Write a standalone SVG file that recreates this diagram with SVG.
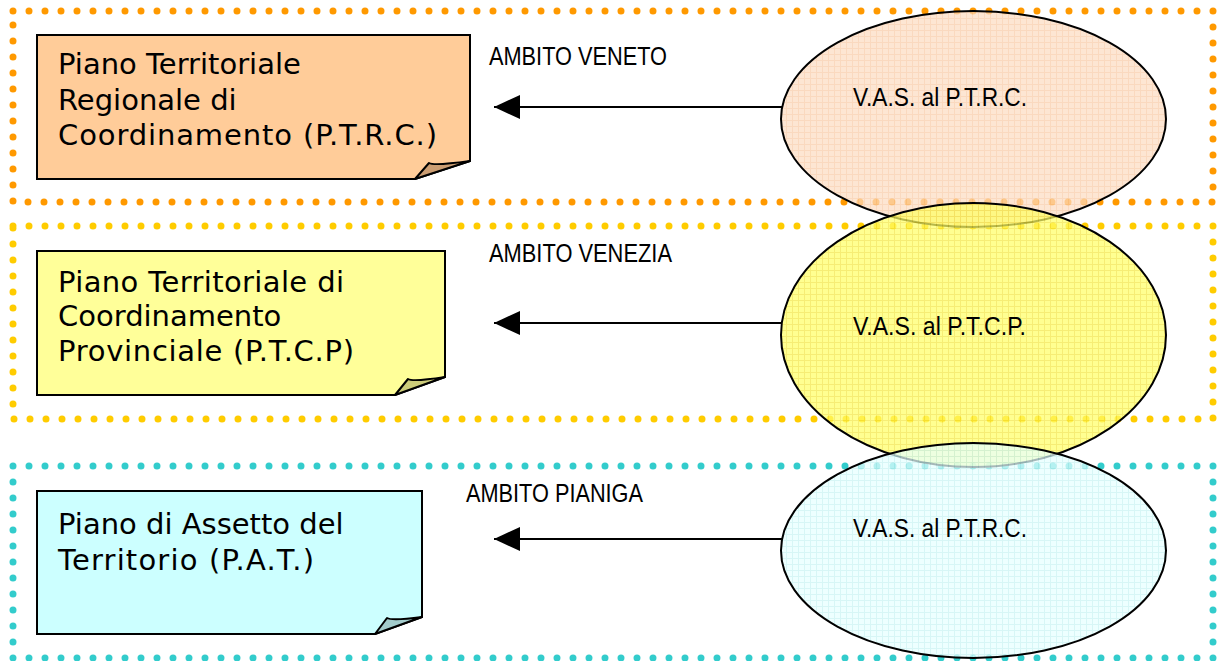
<svg xmlns="http://www.w3.org/2000/svg" width="1225" height="661" viewBox="0 0 1225 661">
<style>
.frame{fill:none;stroke-width:7;stroke-linecap:round;stroke-dasharray:0 16}
.box{stroke:#000;stroke-width:2;stroke-linejoin:miter}
.flap{stroke:#000;stroke-width:2;stroke-linejoin:round}
.btxt{font-family:"DejaVu Sans",Verdana,sans-serif;font-size:29px;fill:#000}
.lbl{font-family:"Liberation Sans",Arial,sans-serif;font-size:26px;fill:#000}
.ell{stroke:#000;stroke-width:2;fill-opacity:0.72}
.conn{stroke:#000;stroke-width:2;fill:none}
</style>
<defs>
<pattern id="pO" width="6" height="6" patternUnits="userSpaceOnUse"><rect width="6" height="6" fill="#fcdcc2"/><path d="M0,0.5H6M0.5,0V6" stroke="#f8cba6" stroke-width="1"/></pattern>
<pattern id="pY" width="6" height="6" patternUnits="userSpaceOnUse"><rect width="6" height="6" fill="#ffff66"/><path d="M0,0.5H6M0.5,0V6" stroke="#f2e640" stroke-width="1"/></pattern>
<pattern id="pC" width="6" height="6" patternUnits="userSpaceOnUse"><rect width="6" height="6" fill="#e6ffff"/><path d="M0,0.5H6M0.5,0V6" stroke="#c8f2f2" stroke-width="1"/></pattern>
<marker id="ah" markerUnits="userSpaceOnUse" markerWidth="26" markerHeight="24" viewBox="0 0 26 24" refX="26" refY="12" orient="auto"><path d="M0,0L26,12L0,24Z" fill="#000"/></marker>
</defs>
<rect width="1225" height="661" fill="#fff"/>
<g id="frames">
<rect class="frame" x="13" y="11" width="1200" height="191" stroke="#ff9900"/>
<rect class="frame" x="13" y="226" width="1200" height="193" stroke="#ffcc00"/>
<rect class="frame" x="13" y="466" width="1200" height="192" stroke="#33cccc"/>
</g>
<g id="node-ptrc">
<path class="box" d="M37,35H470V161L415,179H37Z" fill="#ffcc99"/>
<path class="flap" d="M415,179L429,163Q434,166 470,161Z" fill="#cc9e73"/>
<text class="btxt" x="58" y="74">Piano Territoriale</text>
<text class="btxt" x="58" y="110">Regionale di</text>
<text class="btxt" x="58" y="145" textLength="379" lengthAdjust="spacing">Coordinamento (P.T.R.C.)</text>
</g>
<g id="node-ptcp">
<path class="box" d="M37,251H445V377L395,395H37Z" fill="#ffff99"/>
<path class="flap" d="M395,395L408,379Q413,382 445,377Z" fill="#cccc7a"/>
<text class="btxt" x="58" y="292" textLength="286" lengthAdjust="spacing">Piano Territoriale di</text>
<text class="btxt" x="58" y="326">Coordinamento</text>
<text class="btxt" x="58" y="361" textLength="296" lengthAdjust="spacing">Provinciale (P.T.C.P)</text>
</g>
<g id="node-pat">
<path class="box" d="M37,491H422V617L375,634H37Z" fill="#ccffff"/>
<path class="flap" d="M375,634L387,618Q392,621 422,617Z" fill="#a3cccc"/>
<text class="btxt" x="58" y="534">Piano di Assetto del</text>
<text class="btxt" x="58" y="570" textLength="256" lengthAdjust="spacing">Territorio (P.A.T.)</text>
</g>
<g id="labels">
<text class="lbl" x="489" y="65" textLength="178" lengthAdjust="spacingAndGlyphs">AMBITO VENETO</text>
<text class="lbl" x="489" y="262" textLength="183" lengthAdjust="spacingAndGlyphs">AMBITO VENEZIA</text>
<text class="lbl" x="466" y="502" textLength="177" lengthAdjust="spacingAndGlyphs">AMBITO PIANIGA</text>
</g>
<g id="connectors">
<line class="conn" x1="782" y1="107" x2="494" y2="107" marker-end="url(#ah)"/>
<line class="conn" x1="782" y1="323" x2="494" y2="323" marker-end="url(#ah)"/>
<line class="conn" x1="782" y1="539" x2="494" y2="539" marker-end="url(#ah)"/>
</g>
<g id="node-vas-ptrc">
<ellipse class="ell" cx="973.5" cy="119" rx="192.5" ry="108" fill="url(#pO)"/>
<text class="lbl" x="853" y="106" textLength="174" lengthAdjust="spacingAndGlyphs">V.A.S. al P.T.R.C.</text>
</g>
<g id="node-vas-ptcp">
<ellipse class="ell" cx="973.5" cy="335" rx="192.5" ry="132" fill="url(#pY)"/>
<text class="lbl" x="853" y="335" textLength="173" lengthAdjust="spacingAndGlyphs">V.A.S. al P.T.C.P.</text>
</g>
<g id="node-vas-pat">
<ellipse class="ell" cx="973.5" cy="550.5" rx="192.5" ry="107.5" fill="url(#pC)"/>
<text class="lbl" x="853" y="537" textLength="174" lengthAdjust="spacingAndGlyphs">V.A.S. al P.T.R.C.</text>
</g>
</svg>
